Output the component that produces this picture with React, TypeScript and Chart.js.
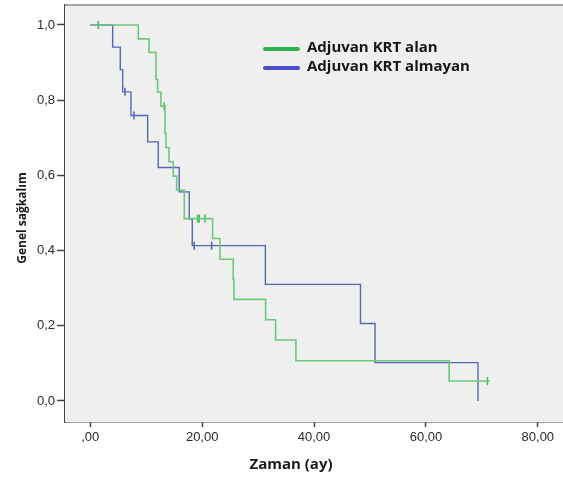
import { useEffect, useRef } from 'react';
import { Chart, registerables } from 'chart.js';

Chart.register(...registerables);

// ---- data ----
const seriesNames = ['Adjuvan KRT alan', 'Adjuvan KRT almayan'];
const seriesColors = ['#6cc97a', '#5468b8'];
const legendColors = ['#2db34f', '#4a50cc'];

const xTicks = [0, 20, 40, 60, 80];
const yTicks = [0, 0.2, 0.4, 0.6, 0.8, 1.0];
const xTitle = 'Zaman (ay)';
const yTitle = 'Genel sağkalım';

// Adjuvan KRT alan (green) – event times and survival after each step
const alanTimes = [0, 8.58, 10.49, 11.74, 12.04, 12.63, 13.35, 13.53, 14.06, 14.83, 15.44, 16.8, 21.87, 23.18, 25.55, 25.68, 31.34, 33.13, 36.76, 64.15, 71.4];
const alanSurv = [1.0, 0.963, 0.927, 0.855, 0.821, 0.784, 0.712, 0.674, 0.636, 0.598, 0.561, 0.485, 0.432, 0.377, 0.323, 0.27, 0.216, 0.162, 0.107, 0.053, 0.053];
const alanCensorTimes = [1.43, 13.22, 19.19, 19.48, 20.5, 71.0];
const alanCensorSurv = [1.0, 0.784, 0.485, 0.485, 0.485, 0.053];

// Adjuvan KRT almayan (blue)
const almayanTimes = [0, 4.0, 5.36, 5.79, 7.27, 10.26, 12.15, 15.9, 17.69, 18.23, 31.3, 48.3, 50.9, 69.3];
const almayanSurv = [1.0, 0.941, 0.881, 0.822, 0.759, 0.689, 0.621, 0.556, 0.484, 0.413, 0.31, 0.206, 0.102, 0.0];
const almayanCensorTimes = [6.2, 7.81, 18.58, 21.69];
const almayanCensorSurv = [0.822, 0.759, 0.413, 0.413];

const toPts = (xs: number[], ys: number[]) => xs.map((x, i) => ({ x, y: ys[i] }));

const fmtX = (v: number) => {
  const s = v.toFixed(2).replace('.', ',');
  return v === 0 ? ',00' : s;
};
const fmtY = (v: number) => v.toFixed(1).replace('.', ',');

const decorPlugin = {
  id: 'decor',
  beforeDatasetsDraw(chart: any) {
    const { ctx, chartArea } = chart;
    ctx.save();
    ctx.fillStyle = '#efefef';
    ctx.fillRect(chartArea.left, chartArea.top, chartArea.right - chartArea.left + 2, chartArea.bottom - chartArea.top);
    ctx.strokeStyle = '#8a8a8a';
    ctx.lineWidth = 1.5;
    ctx.beginPath();
    ctx.moveTo(chartArea.left, chartArea.top);
    ctx.lineTo(chartArea.right + 2, chartArea.top);
    ctx.stroke();
    ctx.restore();
  },
  afterDraw(chart: any) {
    const { ctx } = chart;
    ctx.save();
    // axis titles
    ctx.fillStyle = '#1a1a1a';
    ctx.textAlign = 'center';
    ctx.textBaseline = 'middle';
    ctx.font = 'bold 15px "Open Sans"';
    ctx.fillText(xTitle, 291, 465);
    ctx.translate(23, 218);
    ctx.rotate(-Math.PI / 2);
    ctx.font = 'bold 12px "Open Sans"';
    ctx.fillText(yTitle, 0, 0);
    ctx.setTransform(1, 0, 0, 1, 0, 0);
    // legend
    const rows = [48, 67];
    seriesNames.forEach((name, i) => {
      ctx.strokeStyle = legendColors[i];
      ctx.lineWidth = 4;
      ctx.lineCap = 'round';
      ctx.beginPath();
      ctx.moveTo(265, rows[i] + 1);
      ctx.lineTo(298, rows[i] + 1);
      ctx.stroke();
      ctx.fillStyle = '#161616';
      ctx.textAlign = 'left';
      ctx.textBaseline = 'middle';
      ctx.font = 'bold 15px "Open Sans"';
      ctx.fillText(name, 307, rows[i]);
    });
    ctx.restore();
  },
};

export default function App() {
  const ref = useRef<HTMLCanvasElement | null>(null);

  useEffect(() => {
    document.body.style.margin = '0';
    document.body.style.background = '#ffffff';
    const canvas = ref.current;
    if (!canvas) return;
    const chart = new Chart(canvas, {
      type: 'line',
      data: {
        datasets: [
          {
            label: seriesNames[0],
            data: toPts(alanTimes, alanSurv),
            borderColor: seriesColors[0],
            borderWidth: 1.6,
            stepped: 'before',
            pointRadius: 0,
            fill: false,
          },
          {
            label: seriesNames[1],
            data: toPts(almayanTimes, almayanSurv),
            borderColor: seriesColors[1],
            borderWidth: 1.4,
            stepped: 'before',
            pointRadius: 0,
            fill: false,
          },
          {
            label: seriesNames[0] + ' censored',
            data: toPts(alanCensorTimes, alanCensorSurv),
            showLine: false,
            pointStyle: 'line',
            rotation: 90,
            pointRadius: 4,
            pointBorderWidth: 1.5,
            pointBorderColor: '#3fb856',
            borderColor: '#3fb856',
          },
          {
            label: seriesNames[1] + ' censored',
            data: toPts(almayanCensorTimes, almayanCensorSurv),
            showLine: false,
            pointStyle: 'line',
            rotation: 90,
            pointRadius: 4,
            pointBorderWidth: 1.5,
            pointBorderColor: '#4d62b8',
            borderColor: '#4d62b8',
          },
        ],
      },
      options: {
        responsive: false,
        animation: false,
        events: [],
        layout: { autoPadding: false, padding: { top: 5, right: 0, left: 0, bottom: 0 } },
        plugins: { legend: { display: false }, tooltip: { enabled: false } },
        scales: {
          x: {
            type: 'linear',
            min: -4.52,
            max: 84.5,
            afterBuildTicks: (s: any) => {
              s.ticks = xTicks.map((v) => ({ value: v }));
            },
            afterFit: (s: any) => {
              s.height = 57;
              s.paddingLeft = 0;
              s.paddingRight = 0;
              s.paddingTop = 0;
              s.paddingBottom = 0;
            },
            grid: { display: true, drawOnChartArea: false, drawTicks: true, tickLength: 5, tickColor: '#444', tickWidth: 1.5 },
            border: { display: true, color: '#444', width: 1.5 },
            ticks: {
              padding: 3,
              color: '#2a2a2a',
              font: { family: 'Liberation Sans', size: 13 },
              maxRotation: 0,
              autoSkip: false,
              callback: (v: any) => fmtX(Number(v)),
            },
          },
          y: {
            type: 'linear',
            min: -0.056,
            max: 1.053,
            afterBuildTicks: (s: any) => {
              s.ticks = yTicks.map((v) => ({ value: v }));
            },
            afterFit: (s: any) => {
              s.width = 65;
              s.paddingLeft = 0;
              s.paddingRight = 0;
              s.paddingTop = 0;
              s.paddingBottom = 0;
            },
            grid: { display: true, drawOnChartArea: false, drawTicks: true, tickLength: 8, tickColor: '#444', tickWidth: 1.5 },
            border: { display: true, color: '#444', width: 1.5 },
            ticks: {
              padding: 2,
              color: '#2a2a2a',
              font: { family: 'Liberation Sans', size: 13 },
              autoSkip: false,
              callback: (v: any) => fmtY(Number(v)),
            },
          },
        },
      },
      plugins: [decorPlugin],
    });
    return () => chart.destroy();
  }, []);

  return <canvas ref={ref} width={563} height={479} style={{ display: 'block' }} />;
}
